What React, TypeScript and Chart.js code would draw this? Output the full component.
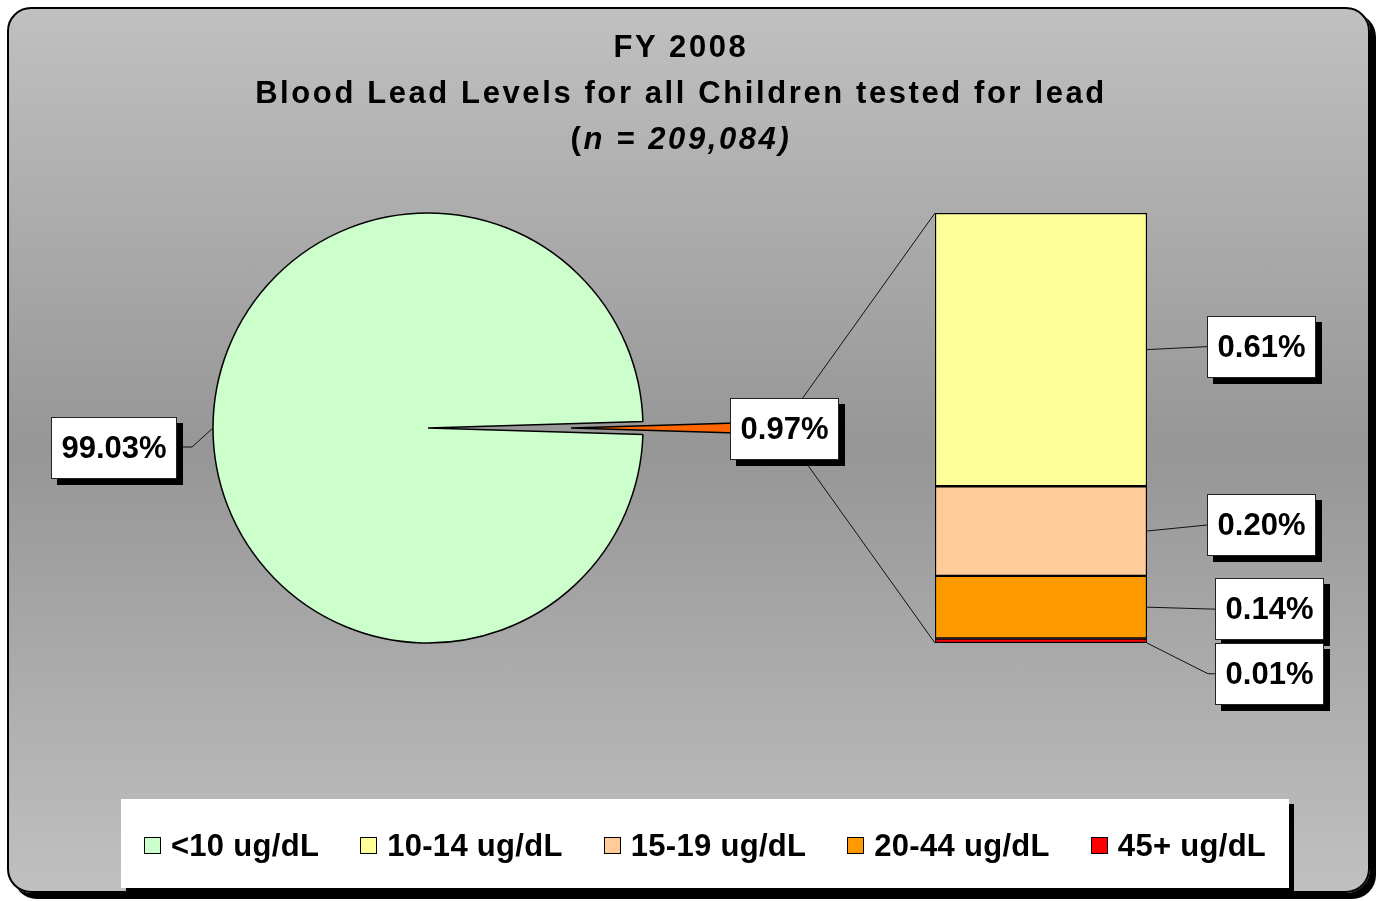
import React, { useEffect, useRef } from 'react';
import { Chart, registerables } from 'chart.js';

Chart.register(...registerables);

// ---- data ----
const TITLE_LINE1 = 'FY 2008';
const TITLE_LINE2 = 'Blood Lead Levels for all Children tested for lead';
const TITLE_N = 'n = 209,084';

const pieLabels = ['<10 ug/dL', 'Other'];
const pieValues = [99.03, 0.97];
const pieColors = ['#CCFFCC', '#FF6600'];

const barLabels = ['10-14 ug/dL', '15-19 ug/dL', '20-44 ug/dL', '45+ ug/dL'];
const barValues = [0.61, 0.2, 0.14, 0.01];
const barColors = ['#FFFF99', '#FFCC99', '#FF9900', '#FF0000'];

const legendLabels = [pieLabels[0], ...barLabels];
const legendColors = [pieColors[0], ...barColors];

// ---- layout ----
const W = 1380;
const H = 901;
const PIE_CX = 428;
const PIE_CY = 428;
const PIE_R = 215;
const PIE_BW = 1.5;
const EXPLODE = 143;
const BAR_LEFT = 935;
const BAR_RIGHT = 1147;
const BAR_TOP = 213;
const BAR_BOTTOM = 643;
const FONT = '"Liberation Sans", Arial, Helvetica, sans-serif';

// label placement (relative offsets)
const barLabelOffsets = [
  { dx: 60, dy: -3, elbow: false },
  { dx: 60, dy: -6, elbow: false },
  { dx: 68, dy: 2, elbow: false },
  { dx: 68, dy: 33, elbow: true },
];

const fmt = (v: number) => v.toFixed(2) + '%';

function drawBox(ctx: CanvasRenderingContext2D, text: string, cx: number | null, left: number | null, cy: number) {
  ctx.save();
  ctx.font = `bold 31px ${FONT}`;
  const tw = ctx.measureText(text).width;
  const w = Math.round(tw + 21);
  const h = 62;
  const x = left !== null ? Math.round(left) : Math.round((cx as number) - w / 2);
  const y = Math.round(cy - h / 2);
  ctx.fillStyle = '#000';
  ctx.fillRect(x + 6, y + 6, w, h);
  ctx.fillStyle = '#fff';
  ctx.fillRect(x, y, w, h);
  ctx.strokeStyle = '#222';
  ctx.lineWidth = 1;
  ctx.strokeRect(x + 0.5, y + 0.5, w - 1, h - 1);
  ctx.fillStyle = '#000';
  ctx.textAlign = 'center';
  ctx.textBaseline = 'middle';
  ctx.fillText(text, x + w / 2, y + h / 2 + 1);
  ctx.restore();
  return { x, y, w, h };
}

function polyline(ctx: CanvasRenderingContext2D, pts: number[][]) {
  ctx.save();
  ctx.strokeStyle = '#111';
  ctx.lineWidth = 1;
  ctx.beginPath();
  ctx.moveTo(pts[0][0], pts[0][1]);
  for (let i = 1; i < pts.length; i++) ctx.lineTo(pts[i][0], pts[i][1]);
  ctx.stroke();
  ctx.restore();
}

export default function App() {
  const pieRef = useRef<HTMLCanvasElement | null>(null);
  const expRef = useRef<HTMLCanvasElement | null>(null);
  const barRef = useRef<HTMLCanvasElement | null>(null);

  useEffect(() => {
    const total = pieValues.reduce((a, b) => a + b, 0);
    const rotation = 90 + (pieValues[1] / total) * 180;
    const S = 2 * PIE_R + PIE_BW;

    const pieCfg = (bg: string[], bc: string[], bw: number[], cx: number): any => ({
      type: 'pie',
      data: {
        labels: pieLabels,
        datasets: [{ data: pieValues, backgroundColor: bg, borderColor: bc, borderWidth: bw, hoverBorderWidth: bw }],
      },
      options: {
        responsive: false,
        animation: false,
        events: [],
        rotation,
        layout: {
          padding: { left: cx - S / 2, top: PIE_CY - S / 2, right: W - cx - S / 2, bottom: H - PIE_CY - S / 2 },
        },
        plugins: { legend: { display: false }, tooltip: { enabled: false }, title: { display: false } },
      },
    });

    const pieMain = new Chart(
      pieRef.current as HTMLCanvasElement,
      pieCfg([pieColors[0], 'rgba(0,0,0,0)'], ['#000', 'rgba(0,0,0,0)'], [PIE_BW, 0], PIE_CX)
    );
    const pieExp = new Chart(
      expRef.current as HTMLCanvasElement,
      pieCfg(['rgba(0,0,0,0)', pieColors[1]], ['rgba(0,0,0,0)', '#000'], [0, PIE_BW], PIE_CX + EXPLODE)
    );

    const barTotal = barValues.reduce((a, b) => a + b, 0);
    const order = barValues.map((_, i) => barValues.length - 1 - i); // bottom first

    const labelPlugin = {
      id: 'labels',
      afterDraw(chart: any) {
        const ctx: CanvasRenderingContext2D = chart.ctx;
        const arcMain: any = pieMain.getDatasetMeta(0).data[0];
        const arcExp: any = pieExp.getDatasetMeta(0).data[1];
        const topDs = chart.getDatasetMeta(order.indexOf(0)).data[0];
        const botDs = chart.getDatasetMeta(order.indexOf(barValues.length - 1)).data[0];
        const barL = topDs.x - topDs.width / 2;
        const barR = topDs.x + topDs.width / 2;

        // series lines
        const e = arcExp.getProps(['x', 'y', 'startAngle', 'endAngle', 'outerRadius']);
        const p1 = [e.x + e.outerRadius * Math.cos(e.startAngle), e.y + e.outerRadius * Math.sin(e.startAngle)];
        const p2 = [e.x + e.outerRadius * Math.cos(e.endAngle), e.y + e.outerRadius * Math.sin(e.endAngle)];
        polyline(ctx, [p1, [barL, topDs.y]]);
        polyline(ctx, [p2, [barL, botDs.base]]);

        // pie label (main slice)
        const m = arcMain.getProps(['x', 'y', 'startAngle', 'endAngle', 'outerRadius']);
        const mid = (m.startAngle + m.endAngle) / 2;
        const ax = m.x + m.outerRadius * Math.cos(mid);
        const ay = m.y + m.outerRadius * Math.sin(mid);
        const b0 = drawBox(ctx, fmt(pieValues[0]), ax - 99, null, ay + 20);
        polyline(ctx, [[ax, ay], [ax - 21, ay + 19], [b0.x + b0.w, ay + 19]]);
        drawBox(ctx, fmt(pieValues[0]), ax - 99, null, ay + 20);

        // exploded slice label
        const emid = (e.startAngle + e.endAngle) / 2;
        const ex = e.x + e.outerRadius * Math.cos(emid);
        const ey = e.y + e.outerRadius * Math.sin(emid);
        drawBox(ctx, fmt(pieValues[1]), ex - 2, null, ey + 1);

        // bar labels
        barValues.forEach((v, i) => {
          const el: any = chart.getDatasetMeta(order.indexOf(i)).data[0];
          const cy = (el.y + el.base) / 2;
          const off = barLabelOffsets[i];
          const boxLeft = barR + off.dx;
          const by = cy + off.dy;
          if (off.elbow) {
            polyline(ctx, [[barR, el.base], [boxLeft - 7, by], [boxLeft, by]]);
          } else {
            polyline(ctx, [[barR, cy], [boxLeft, by]]);
          }
          drawBox(ctx, fmt(v), null, boxLeft, by);
        });
      },
    };

    const bar = new Chart(barRef.current as HTMLCanvasElement, {
      type: 'bar',
      data: {
        labels: ['Other'],
        datasets: order.map((i) => ({
          label: barLabels[i],
          data: [barValues[i]],
          backgroundColor: barColors[i],
          borderColor: '#000',
          borderWidth: 1.5,
          borderSkipped: false,
          barPercentage: 1,
          categoryPercentage: 1,
        })),
      },
      options: {
        responsive: false,
        animation: false,
        events: [],
        layout: { padding: { left: BAR_LEFT, right: W - BAR_RIGHT, top: BAR_TOP, bottom: H - BAR_BOTTOM } },
        scales: {
          x: { stacked: true, display: false },
          y: { stacked: true, display: false, min: 0, max: barTotal },
        },
        plugins: { legend: { display: false }, tooltip: { enabled: false }, title: { display: false } },
      },
      plugins: [labelPlugin],
    } as any);

    return () => {
      bar.destroy();
      pieExp.destroy();
      pieMain.destroy();
    };
  }, []);

  const canvasStyle: React.CSSProperties = { position: 'absolute', left: 0, top: 0, width: W, height: H };

  return (
    <div style={{ position: 'absolute', left: 0, top: 0, width: W, height: H, background: '#fff', overflow: 'hidden' }}>
      <div
        style={{
          position: 'absolute',
          left: 7,
          top: 7,
          width: 1363,
          height: 886,
          boxSizing: 'border-box',
          border: '2px solid #000',
          borderRadius: 24,
          background: 'linear-gradient(to bottom, #C0C0C0 0%, #969696 50%, #C0C0C0 100%)',
          boxShadow: '6px 6px 0 #000',
        }}
      />
      <canvas ref={pieRef} width={W} height={H} style={canvasStyle} />
      <canvas ref={expRef} width={W} height={H} style={canvasStyle} />
      <canvas ref={barRef} width={W} height={H} style={canvasStyle} />
      <div
        style={{
          position: 'absolute',
          left: 0,
          top: 24,
          width: 1362,
          textAlign: 'center',
          font: `bold 31px ${FONT}`,
          lineHeight: '46px',
          letterSpacing: '2.6px',
          color: '#000',
        }}
      >
        <div>{TITLE_LINE1}</div>
        <div>{TITLE_LINE2}</div>
        <div>
          (<i>{TITLE_N})</i>
        </div>
      </div>
      <div
        style={{
          position: 'absolute',
          left: 121,
          top: 799,
          width: 1168,
          height: 89,
          boxSizing: 'border-box',
          paddingTop: 4,
          background: '#fff',
          boxShadow: '5px 5px 0 #000',
          display: 'flex',
          alignItems: 'center',
          justifyContent: 'center',
          gap: 41,
          font: `bold 31px ${FONT}`,
          letterSpacing: '0.3px',
          color: '#000',
        }}
      >
        {legendLabels.map((l, i) => (
          <div key={l} style={{ display: 'flex', alignItems: 'center' }}>
            <span
              style={{
                display: 'inline-block',
                width: 17,
                height: 17,
                boxSizing: 'border-box',
                border: '1px solid #000',
                background: legendColors[i],
                marginRight: 10,
              }}
            />
            <span>{l}</span>
          </div>
        ))}
      </div>
    </div>
  );
}
